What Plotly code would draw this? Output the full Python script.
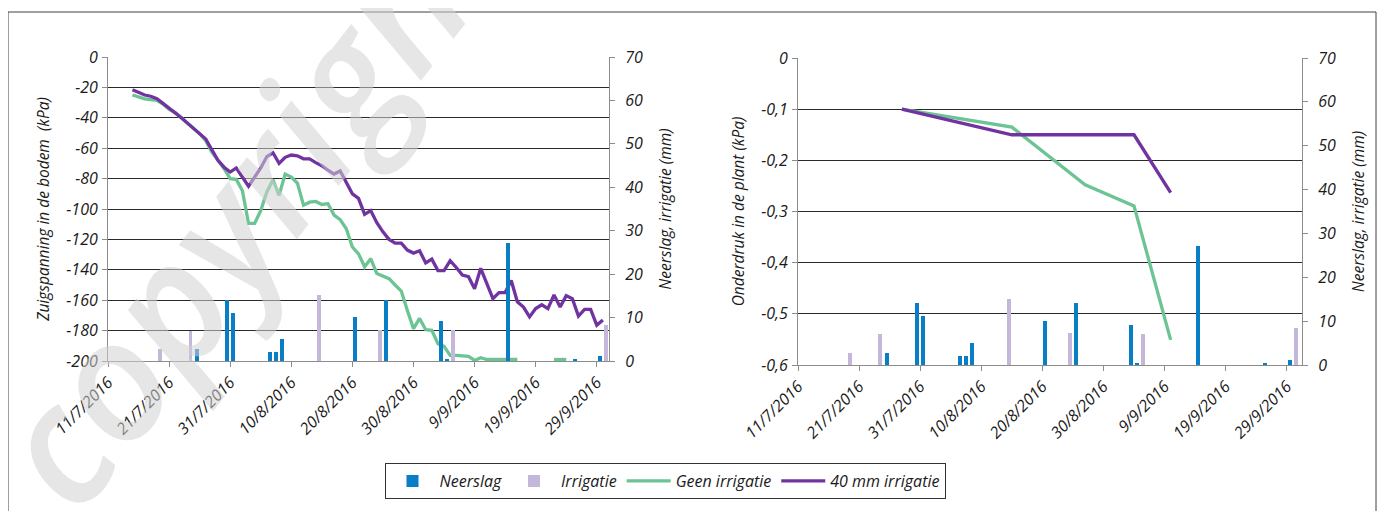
import pandas as pd
import plotly.graph_objects as go

# ---------------- data ----------------
soil_start, soil_end = "2016-07-15", "2016-09-30"   # daily readings
soil_geen = [-25, -26.5, -27.5, -28, -28.5, -31, -34.5, -36.5, -40, -43.5,
             -47, -50.5, -55, -62.5, -68, -73.5, -80, -80.5, -88, -109.5,
             -109.5, -101, -88.8, -80.7, -91, -77, -79, -83, -97.5, -95.5,
             -95, -97, -96.5, -104, -107, -113, -125, -129.5, -138, -132.7,
             -142.5, -144.3, -145.8, -150, -154, -166.7, -178.7, -172, -179.4, -179.8,
             -188.6, -190.4, -196.3, -196.3, -196.5, -197, -199.6, -197.8, -199, -199,
             -199, -199, -199, -199, None, None, None, None, None, -199,
             -199, -199, None, None, None, None, None, None]
soil_40 = [-21.5, -23.5, -25, -25.8, -27.5, -30.5, -33.5, -36.5, -40, -43.5,
           -47, -50, -54, -61, -68, -72.5, -75.7, -73, -79, -85,
           -79, -73, -65.5, -63, -70, -66, -64.5, -65, -67, -67,
           -69.5, -71.5, -74.5, -77, -75, -82, -90, -93, -103.5, -101,
           -109, -115, -120, -122.5, -122.5, -127, -129, -127.5, -135.5, -133,
           -140.5, -140.5, -134, -138.5, -143.5, -144.5, -152.5, -139, -149, -159,
           -155, -155, -147, -161, -164.5, -171, -165.5, -163, -165.5, -156.5,
           -164.5, -157, -159, -170.5, -166, -166, -176.5, -173]

plant_dates = ["2016-07-28", "2016-08-15", "2016-08-27", "2016-09-04", "2016-09-10"]
plant_geen = [-0.1, -0.135, -0.248, -0.289, -0.551]
plant_40 = [-0.1, -0.15, -0.15, -0.15, -0.263]

rain_dates = ["2016-07-25", "2016-07-30", "2016-07-31", "2016-08-06", "2016-08-07",
              "2016-08-08", "2016-08-20", "2016-08-25", "2016-09-03", "2016-09-04",
              "2016-09-14", "2016-09-25", "2016-09-29"]
rain_mm = [2.8, 14.1, 11.1, 2.1, 2.1, 5.1, 10.1, 14.1, 9.1, 0.4, 27.2, 0.4, 1.1]

irr_dates = ["2016-07-19", "2016-07-24", "2016-08-14", "2016-08-24", "2016-09-05", "2016-09-30"]
irr_mm = [2.8, 7.0, 15.1, 7.2, 7.1, 8.4]

soil_ticks = [-200, -180, -160, -140, -120, -100, -80, -60, -40, -20, 0]
soil_ticktext = ["-200", "-180", "-160", "-140", "-120", "-100", "-80", "-60", "-40", "-20", "0"]
plant_ticks = [-0.6, -0.5, -0.4, -0.3, -0.2, -0.1, 0]
plant_ticktext = ["-0,6", "-0,5", "-0,4", "-0,3", "-0,2", "-0,1", "0"]
mm_ticks = [0, 10, 20, 30, 40, 50, 60, 70]

names = ["Neerslag", "Irrigatie", "Geen irrigatie", "40 mm irrigatie"]
y_titles = ["Zuigspanning in de bodem  (kPa)", "Onderdruk in de plant (kPa)", "Neerslag, irrigatie (mm)"]
watermark = "copyright"

# ---------------- style ----------------
BLUE = "#0a7dc7"
LILAC = "#c5b7d9"
GREEN = "#6cc393"
PURPLE = "#7133a0"
W, H = 1388, 511
PAGE_OFF = 8            # the html page places the figure 8 px from the top-left corner
FONT = "Open Sans"
DAY_MS = 86400000

soil_x = pd.date_range(soil_start, soil_end, freq="D")
half_day = pd.Timedelta(hours=12)          # Excel date axis: bars centred in the day slot
rain_x = pd.to_datetime(rain_dates) + half_day
irr_x = pd.to_datetime(irr_dates) + half_day
plant_x = pd.to_datetime(plant_dates)


def px_x(p):
    return (p - PAGE_OFF) / W


def px_y(p):
    return 1 - (p - PAGE_OFF) / H


fig = go.Figure()

for xa, ya_line, ya_bar, show, lx, lg, l40 in [
    ("x", "y", "y2", True, soil_x, soil_geen, soil_40),
    ("x2", "y3", "y4", False, plant_x, plant_geen, plant_40),
]:
    fig.add_trace(go.Bar(x=rain_x, y=rain_mm, name=names[0], marker=dict(color=BLUE, line=dict(width=0)),
                         width=0.65 * DAY_MS, xaxis=xa, yaxis=ya_bar, showlegend=show, legendgroup="n"))
    fig.add_trace(go.Bar(x=irr_x, y=irr_mm, name=names[1], marker=dict(color=LILAC, line=dict(width=0)),
                         width=0.65 * DAY_MS, xaxis=xa, yaxis=ya_bar, showlegend=show, legendgroup="i"))
    fig.add_trace(go.Scatter(x=lx, y=lg, mode="lines", name=names[2], line=dict(color=GREEN, width=3.3),
                             xaxis=xa, yaxis=ya_line, showlegend=show, legendgroup="g", connectgaps=False))
    fig.add_trace(go.Scatter(x=lx, y=l40, mode="lines", name=names[3], line=dict(color=PURPLE, width=3.3),
                             xaxis=xa, yaxis=ya_line, showlegend=show, legendgroup="p"))

tickfont = dict(family=FONT, size=16, color="#1a1a1a", style="italic")
titlefont = dict(family=FONT, size=15.5, color="#1a1a1a", style="italic")
AXC = "#8c8c8c"

xcommon = dict(type="date", tick0="2016-07-11", dtick=10 * DAY_MS, tickformat="%-d/%-m/%Y",
               tickangle=-45, ticks="outside", ticklen=5, tickcolor=AXC, showline=True,
               linecolor=AXC, linewidth=1, showgrid=False, zeroline=False, tickfont=tickfont,
               automargin=False)
yleft = dict(zeroline=False, showline=True, linecolor=AXC, ticks="outside", ticklen=5,
             tickcolor=AXC, tickfont=tickfont, ticklabelstandoff=1, automargin=False)
yright = dict(zeroline=False, showline=True, linecolor=AXC, ticks="outside", ticklen=5,
              tickcolor=AXC, tickfont=tickfont, ticklabelstandoff=7, automargin=False)

fig.update_layout(
    width=W, height=H,
    margin=dict(l=0, r=0, t=0, b=0, autoexpand=False),
    paper_bgcolor="white", plot_bgcolor="rgba(0,0,0,0)",
    barmode="overlay", bargap=0,
    font=dict(family=FONT, size=15, style="italic"),
    xaxis=dict(domain=[px_x(108), px_x(609)], anchor="y",
               range=["2016-07-11", "2016-10-01"], **xcommon),
    xaxis2=dict(domain=[px_x(798), px_x(1302)], anchor="y3",
                range=["2016-07-11", "2016-10-01 12:00"], **xcommon),
    yaxis=dict(domain=[px_y(361), px_y(57)], anchor="x", range=[-200, 0],
               tickvals=soil_ticks, ticktext=soil_ticktext, showgrid=True, gridcolor="#2a2a2a",
               gridwidth=1, title=dict(text=y_titles[0], font=titlefont, standoff=12), **yleft),
    yaxis2=dict(overlaying="y", side="right", anchor="x", range=[0, 70], tickvals=mm_ticks,
                showgrid=False, title=dict(text=y_titles[2], font=titlefont, standoff=18), **yright),
    yaxis3=dict(domain=[px_y(365), px_y(58)], anchor="x2", range=[-0.6, 0],
                tickvals=plant_ticks, ticktext=plant_ticktext, showgrid=True, gridcolor="#2a2a2a",
                gridwidth=1, title=dict(text=y_titles[1], font=titlefont, standoff=12), **yleft),
    yaxis4=dict(overlaying="y3", side="right", anchor="x2", range=[0, 70], tickvals=mm_ticks,
                showgrid=False, title=dict(text=y_titles[2], font=titlefont, standoff=18), **yright),
    legend=dict(orientation="h", x=px_x(665), y=px_y(481), xanchor="center", yanchor="middle",
                bordercolor="#333333", borderwidth=1, bgcolor="white",
                font=dict(family=FONT, size=16, color="#1a1a1a", style="italic"),
                itemwidth=44, traceorder="normal"),
    shapes=[dict(type="rect", xref="paper", yref="paper", x0=px_x(8), x1=px_x(1376),
                 y0=-0.05, y1=px_y(12), line=dict(color="#404040", width=1), layer="below")],
    annotations=[dict(text=watermark, xref="paper", yref="paper", x=px_x(248), y=px_y(198),
                      xanchor="center", yanchor="middle", showarrow=False, textangle=-52,
                      font=dict(family=FONT, size=166, weight=600, color="rgba(210,210,210,0.55)"))],
)

fig.write_html("out.html")
